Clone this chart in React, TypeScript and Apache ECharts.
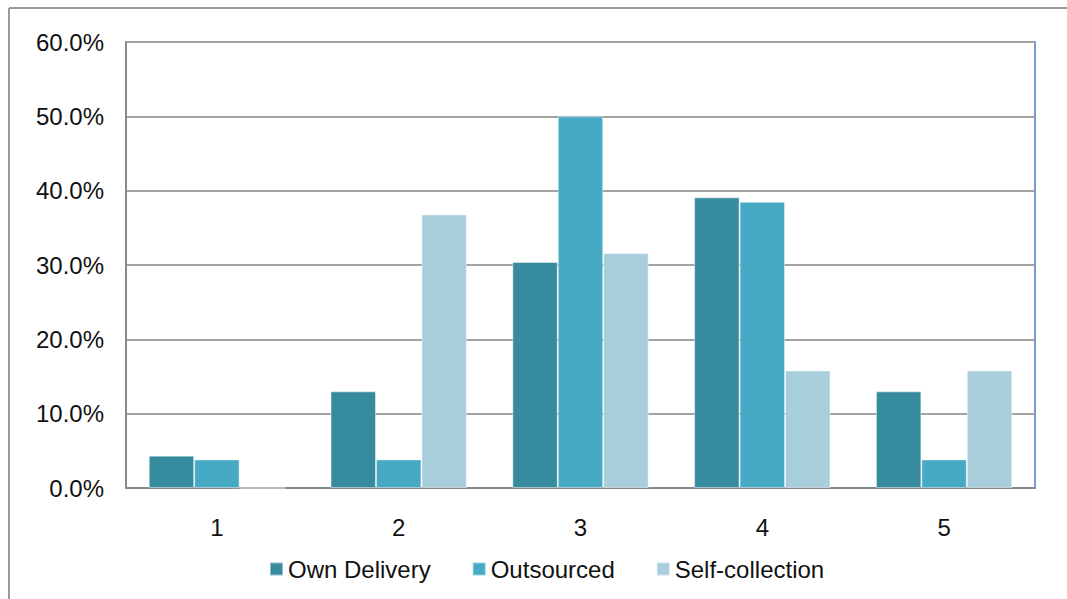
import React, { useEffect, useRef } from "react";
import * as echarts from "echarts";

const categories = ["1", "2", "3", "4", "5"];
const ownDelivery = [4.35, 13.0, 30.4, 39.1, 13.0];
const outsourced = [3.85, 3.85, 50.0, 38.5, 3.85];
const selfCollection = [0, 36.8, 31.6, 15.8, 15.8];
const seriesNames = ["Own Delivery", "Outsourced", "Self-collection"];
const colors = ["#378b9f", "#46aac4", "#a8cddb"];

export default function App() {
  const ref = useRef<HTMLDivElement>(null);
  useEffect(() => {
    document.body.style.margin = "0";
    const chart = echarts.init(ref.current!, null, { renderer: "svg" });
    const font = "Liberation Sans, Arial, sans-serif";
    const mk = (name: string, data: number[], color: string) => ({
      name,
      type: "bar",
      data,
      barGap: "0%",
      barCategoryGap: "25%",
      itemStyle: { color, borderColor: "rgba(255,255,255,0.45)", borderWidth: 1 },
    });
    chart.setOption({
      animation: false,
      backgroundColor: "#ffffff",
      color: colors,
      textStyle: { fontFamily: font },
      grid: {
        left: 126,
        top: 42,
        right: 32,
        bottom: 111,
        show: true,
        borderColor: "#7b9bd2",
        borderWidth: 2,
        backgroundColor: "transparent",
      },
      legend: {
        data: seriesNames,
        left: 264,
        top: 552,
        itemWidth: 13,
        itemHeight: 13,
        itemGap: 41,
        icon: "rect",
        textStyle: { fontSize: 24, color: "#111", fontFamily: font },
      },
      xAxis: {
        type: "category",
        data: categories,
        axisLine: { show: true, lineStyle: { color: "#868a93", width: 2 } },
        axisTick: { show: false },
        axisLabel: { fontSize: 24, color: "#111", margin: 27, fontFamily: font },
      },
      yAxis: {
        type: "value",
        min: 0,
        max: 60,
        interval: 10,
        axisLine: { show: true, lineStyle: { color: "#868a93", width: 2 } },
        axisTick: { show: false },
        splitLine: { show: true, lineStyle: { color: "#a3a3a3", width: 2 } },
        axisLabel: {
          fontSize: 24,
          color: "#111",
          margin: 22,
          fontFamily: font,
          formatter: (v: number) => v.toFixed(1) + "%",
        },
      },
      graphic: [
        { type: "line", shape: { x1: 9, y1: 8, x2: 1067, y2: 8 }, style: { stroke: "#9a9a9a", lineWidth: 2 } },
        { type: "line", shape: { x1: 9, y1: 8, x2: 9, y2: 599 }, style: { stroke: "#9a9a9a", lineWidth: 2 } },
      ],
      series: [
        mk(seriesNames[0], ownDelivery, colors[0]),
        mk(seriesNames[1], outsourced, colors[1]),
        mk(seriesNames[2], selfCollection, colors[2]),
      ],
    });
    return () => chart.dispose();
  }, []);
  return <div ref={ref} style={{ width: 1067, height: 599 }} />;
}
